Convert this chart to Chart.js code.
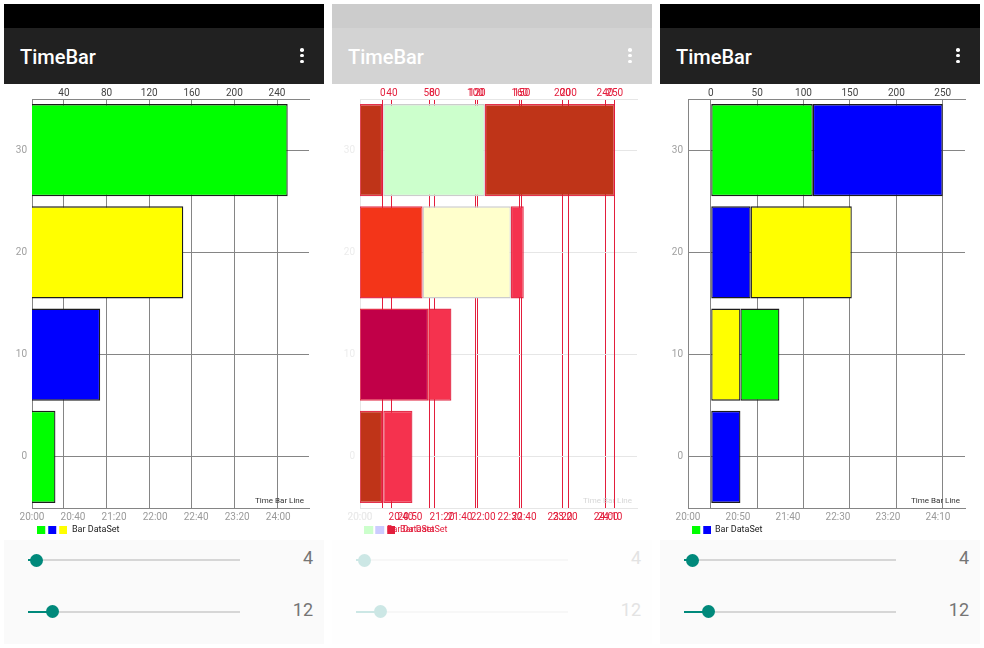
<!DOCTYPE html>
<html>
<head>
<meta charset="utf-8">
<title>TimeBar</title>
<script src="https://cdn.jsdelivr.net/npm/chart.js@4.4.1/dist/chart.umd.min.js"></script>
<style>
    html, body { margin: 0; padding: 0; background: #fff; }
    body { width: 984px; height: 648px; position: relative; overflow: hidden; font-family: Roboto, "Noto Sans", sans-serif; }
    .phone { position: absolute; top: 0; width: 320px; height: 648px; }
    .status { position: absolute; left: 0; top: 4px; width: 320px; height: 24px; background: #000; }
    .appbar { position: absolute; left: 0; top: 28px; width: 320px; height: 56px; background: #212121; }
    .appbar .title { position: absolute; left: 16px; top: 19px; font-size: 20px; line-height: 20px; font-weight: 500; color: #fff; }
    .dots { position: absolute; left: 296px; top: 20px; }
    .dots i { display: block; width: 3.6px; height: 3.6px; border-radius: 50%; background: #fff; margin-bottom: 2.2px; }
    .plot { position: absolute; left: 0; top: 84px; width: 320px; height: 460px; background: #fff; }
    .plot canvas { position: absolute; left: 0; top: 0; }
    .controls { position: absolute; left: 0; top: 540px; width: 320px; height: 104px; background: #fafafa; z-index: 2; }
    .track { position: absolute; left: 24px; width: 212px; height: 2px; background: #d6d6d6; }
    .fill { position: absolute; left: 24px; height: 2px; background: #00897b; }
    .thumb { position: absolute; width: 13px; height: 13px; border-radius: 50%; background: #00897b; }
    .val { position: absolute; right: 11px; font-size: 18px; line-height: 18px; color: #757575; }
    .faded .status { background: #ccc; }
    .faded .appbar { background: #d3d3d3; }
    .faded .controls { background: #fefefe; }
    .faded .track { background: #f7f7f7; }
    .faded .fill, .faded .thumb { background: #cce7e5; }
    .faded .val { color: #e3e3e3; }
</style>
</head>
<body>
<script>
// rows on the value axis
const yValues = [0, 10, 20, 30];

// left phone: one bar per row
const leftRange = [10, 270];
const leftTimeMax = 270;
const leftEnd = [32, 74, 152, 250];
const leftTopTicks = [40, 80, 120, 160, 200, 240];
const leftTimeTicks = [0, 40, 80, 120, 160, 200, 240];

// right phone: two pieces per row
const rightRange = [-24.5, 274];
const rightTimeMax = 277;
const rightSplit = [32, 32, 43, 110];
const rightEnd = [32, 74, 152, 250];
const rightTopTicks = [0, 50, 100, 150, 200, 250];
const rightTimeTicks = [0, 50, 100, 150, 200, 250];

// middle phone: regions of the comparison, in right-phone units
const diffY = [30, 30, 30, 20, 20, 20, 10, 10, 0, 0];
const diffFrom = [-25, 0, 110, -25, 43, 138, -25, 49, -25, 0];
const diffTo = [0, 110, 250, 43, 138, 152, 49, 74, 0, 32];

// colours
const GREEN = '#00ff00', BLUE = '#0000ff', YELLOW = '#ffff00';
const RED = '#e31e3c';
const NONE = 'rgba(0,0,0,0)';
const EDGE = '#1c1c1c';
const leftColors = [GREEN, BLUE, YELLOW, GREEN];
const rightFirstColors = [BLUE, YELLOW, BLUE, GREEN];
const rightSecondColors = [null, GREEN, YELLOW, BLUE];
const diffColors = ['#bf3418', '#ccffcc', '#bf3418', '#f33519', '#ffffcc', '#f5324e', '#c10048', '#f5324e', '#bf3418', '#f5324e'];
const diffEdges = diffColors.map(c => (c === '#ccffcc' || c === '#ffffcc') ? '#cccccc' : 'rgba(225,25,55,0.9)');

const axisFont = { family: 'Roboto', size: 10 };

function timeText(v) {
    const h = 20 + Math.floor(v / 60);
    const m = v % 60;
    return h + ':' + String(m).padStart(2, '0');
}

function legendSwatch(colors) {
    const c = document.createElement('canvas');
    c.width = colors.length * 11 - 3;
    c.height = 8;
    const g = c.getContext('2d');
    colors.forEach((col, i) => { g.fillStyle = col; g.fillRect(i * 11, 0, 8, 8); });
    return c;
}

const descPlugin = {
    id: 'desc',
    defaults: { text: '', color: '#333' },
    afterDraw(chart, args, opts) {
        if (!opts.text) return;
        const { ctx, chartArea } = chart;
        ctx.save();
        ctx.font = '8px Roboto';
        ctx.fillStyle = opts.color;
        ctx.textAlign = 'right';
        ctx.textBaseline = 'alphabetic';
        ctx.fillText(opts.text, chartArea.right - 5, chartArea.bottom - 5);
        ctx.restore();
    }
};

function buildPhone(left, faded) {
    const el = document.createElement('div');
    el.className = 'phone' + (faded ? ' faded' : '');
    el.style.left = left + 'px';
    el.innerHTML = `
        <div class="status"></div>
        <div class="appbar"><span class="title">TimeBar</span><span class="dots"><i></i><i></i><i></i></span></div>
        <div class="plot"></div>
        <div class="controls">
            <div class="track" style="top:19px"></div>
            <div class="fill" style="top:19px;width:8px"></div>
            <div class="thumb" style="left:25.5px;top:13.5px"></div>
            <span class="val" style="top:9px">4</span>
            <div class="track" style="top:70.7px"></div>
            <div class="fill" style="top:70.7px;width:24.7px"></div>
            <div class="thumb" style="left:42.2px;top:65.2px"></div>
            <span class="val" style="top:61px">12</span>
        </div>`;
    document.body.appendChild(el);
    return el.querySelector('.plot');
}

function addCanvas(plot) {
    const c = document.createElement('canvas');
    c.width = 320;
    c.height = 460;
    c.style.width = '320px';
    c.style.height = '460px';
    plot.appendChild(c);
    return c;
}

function timeBarChart(canvas, p) {
    return new Chart(canvas.getContext('2d'), {
        type: 'bar',
        data: { datasets: p.datasets },
        options: {
            indexAxis: 'y',
            responsive: false,
            animation: false,
            events: [],
            layout: { padding: { left: 0, right: 15, top: 0, bottom: 0 } },
            datasets: {
                bar: { grouped: false, categoryPercentage: 1, barPercentage: 0.9, borderSkipped: false, borderWidth: 1.3 }
            },
            scales: {
                x: {
                    type: 'linear', position: 'top', min: p.range[0], max: p.range[1],
                    afterBuildTicks: s => { s.ticks = p.topTicks.map(v => ({ value: v })); },
                    afterFit: s => { s.height = 15; },
                    grid: { color: p.grid, drawTicks: false },
                    border: { color: p.border },
                    ticks: { color: p.topColor, font: axisFont, padding: 0, maxRotation: 0, autoSkip: false }
                },
                time: {
                    type: 'linear', axis: 'x', position: 'bottom', min: 0, max: p.timeMax,
                    afterBuildTicks: s => { s.ticks = p.timeTicks.map(v => ({ value: v })); },
                    afterFit: s => { s.height = 12; },
                    grid: { display: false, drawTicks: false },
                    border: { color: p.border },
                    ticks: {
                        color: ctx => ctx.index === 0 ? p.firstTimeColor : p.timeColor,
                        font: axisFont, padding: 3, maxRotation: 0, autoSkip: false,
                        callback: v => timeText(v)
                    }
                },
                y: {
                    type: 'linear', min: -5, max: 35, offset: false,
                    afterBuildTicks: s => { s.ticks = yValues.map(v => ({ value: v })); },
                    afterFit: s => { s.width = 28; },
                    grid: { color: p.yGrid, drawTicks: false, offset: false },
                    border: { color: p.border },
                    ticks: { color: p.yColor, font: axisFont, padding: 5 }
                }
            },
            plugins: {
                tooltip: { enabled: false },
                legend: {
                    position: 'bottom', align: 'start', fullSize: false,
                    labels: {
                        usePointStyle: true, pointStyleWidth: p.legendWidth, boxHeight: 8,
                        padding: 5, color: p.legendText, font: { family: 'Roboto', size: 9 },
                        generateLabels: () => [{
                            text: 'Bar DataSet', pointStyle: legendSwatch(p.legendColors),
                            fillStyle: NONE, strokeStyle: NONE, lineWidth: 0,
                            hidden: false, datasetIndex: 0, fontColor: p.legendText
                        }]
                    }
                },
                desc: { text: p.desc ? 'Time Bar Line' : '', color: p.desc || NONE }
            }
        },
        plugins: [descPlugin]
    });
}

const plainStyle = {
    grid: '#858585', border: '#858585', topColor: '#444', timeColor: '#9a9a9a', firstTimeColor: '#9a9a9a',
    yColor: '#a0a0a0', yGrid: '#858585', desc: '#333', legendText: '#222'
};

// left phone
const leftData = yValues.map((y, i) => ({ y, x: [0, leftEnd[i]] }));
timeBarChart(addCanvas(buildPhone(4, false)), Object.assign({}, plainStyle, {
    range: leftRange, topTicks: leftTopTicks, timeMax: leftTimeMax, timeTicks: leftTimeTicks,
    legendColors: [GREEN, BLUE, YELLOW], legendWidth: 30.5,
    datasets: [{ data: leftData, backgroundColor: leftColors, borderColor: EDGE }]
}));

// right phone
const rightFirst = yValues.map((y, i) => ({ y, x: [0, rightSplit[i]] }));
const rightSecond = [];
const rightSecondFill = [];
yValues.forEach((y, i) => {
    if (rightEnd[i] > rightSplit[i]) {
        rightSecond.push({ y, x: [rightSplit[i], rightEnd[i]] });
        rightSecondFill.push(rightSecondColors[i]);
    }
});
timeBarChart(addCanvas(buildPhone(660, false)), Object.assign({}, plainStyle, {
    range: rightRange, topTicks: rightTopTicks, timeMax: rightTimeMax, timeTicks: rightTimeTicks,
    legendColors: [GREEN, BLUE], legendWidth: 17.5,
    datasets: [
        { data: rightFirst, backgroundColor: rightFirstColors, borderColor: EDGE },
        { data: rightSecond, backgroundColor: rightSecondFill, borderColor: EDGE }
    ]
}));

// middle phone: faded base with the changed parts in red
const midPlot = buildPhone(332, true);
timeBarChart(addCanvas(midPlot), {
    range: leftRange, topTicks: leftTopTicks, timeMax: leftTimeMax, timeTicks: leftTimeTicks,
    grid: RED, border: '#e6e6e6', topColor: RED, timeColor: RED, firstTimeColor: '#ebebeb',
    yColor: '#ececec', yGrid: '#e6e6e6', desc: '#d6d6d6', legendText: RED,
    legendColors: ['#ccffcc', '#ccccff', RED], legendWidth: 30.5,
    datasets: []
});
const diffData = diffY.map((y, i) => ({ y, x: [diffFrom[i], diffTo[i]] }));
timeBarChart(addCanvas(midPlot), {
    range: rightRange, topTicks: rightTopTicks, timeMax: rightTimeMax, timeTicks: rightTimeTicks,
    grid: RED, border: NONE, topColor: RED, timeColor: RED, firstTimeColor: '#ebebeb',
    yColor: NONE, yGrid: NONE, desc: null, legendText: RED,
    legendColors: ['#ccffcc', '#ccccff'], legendWidth: 17.5,
    datasets: [{ data: diffData, backgroundColor: diffColors, borderColor: diffEdges }]
});
</script>
</body>
</html>
